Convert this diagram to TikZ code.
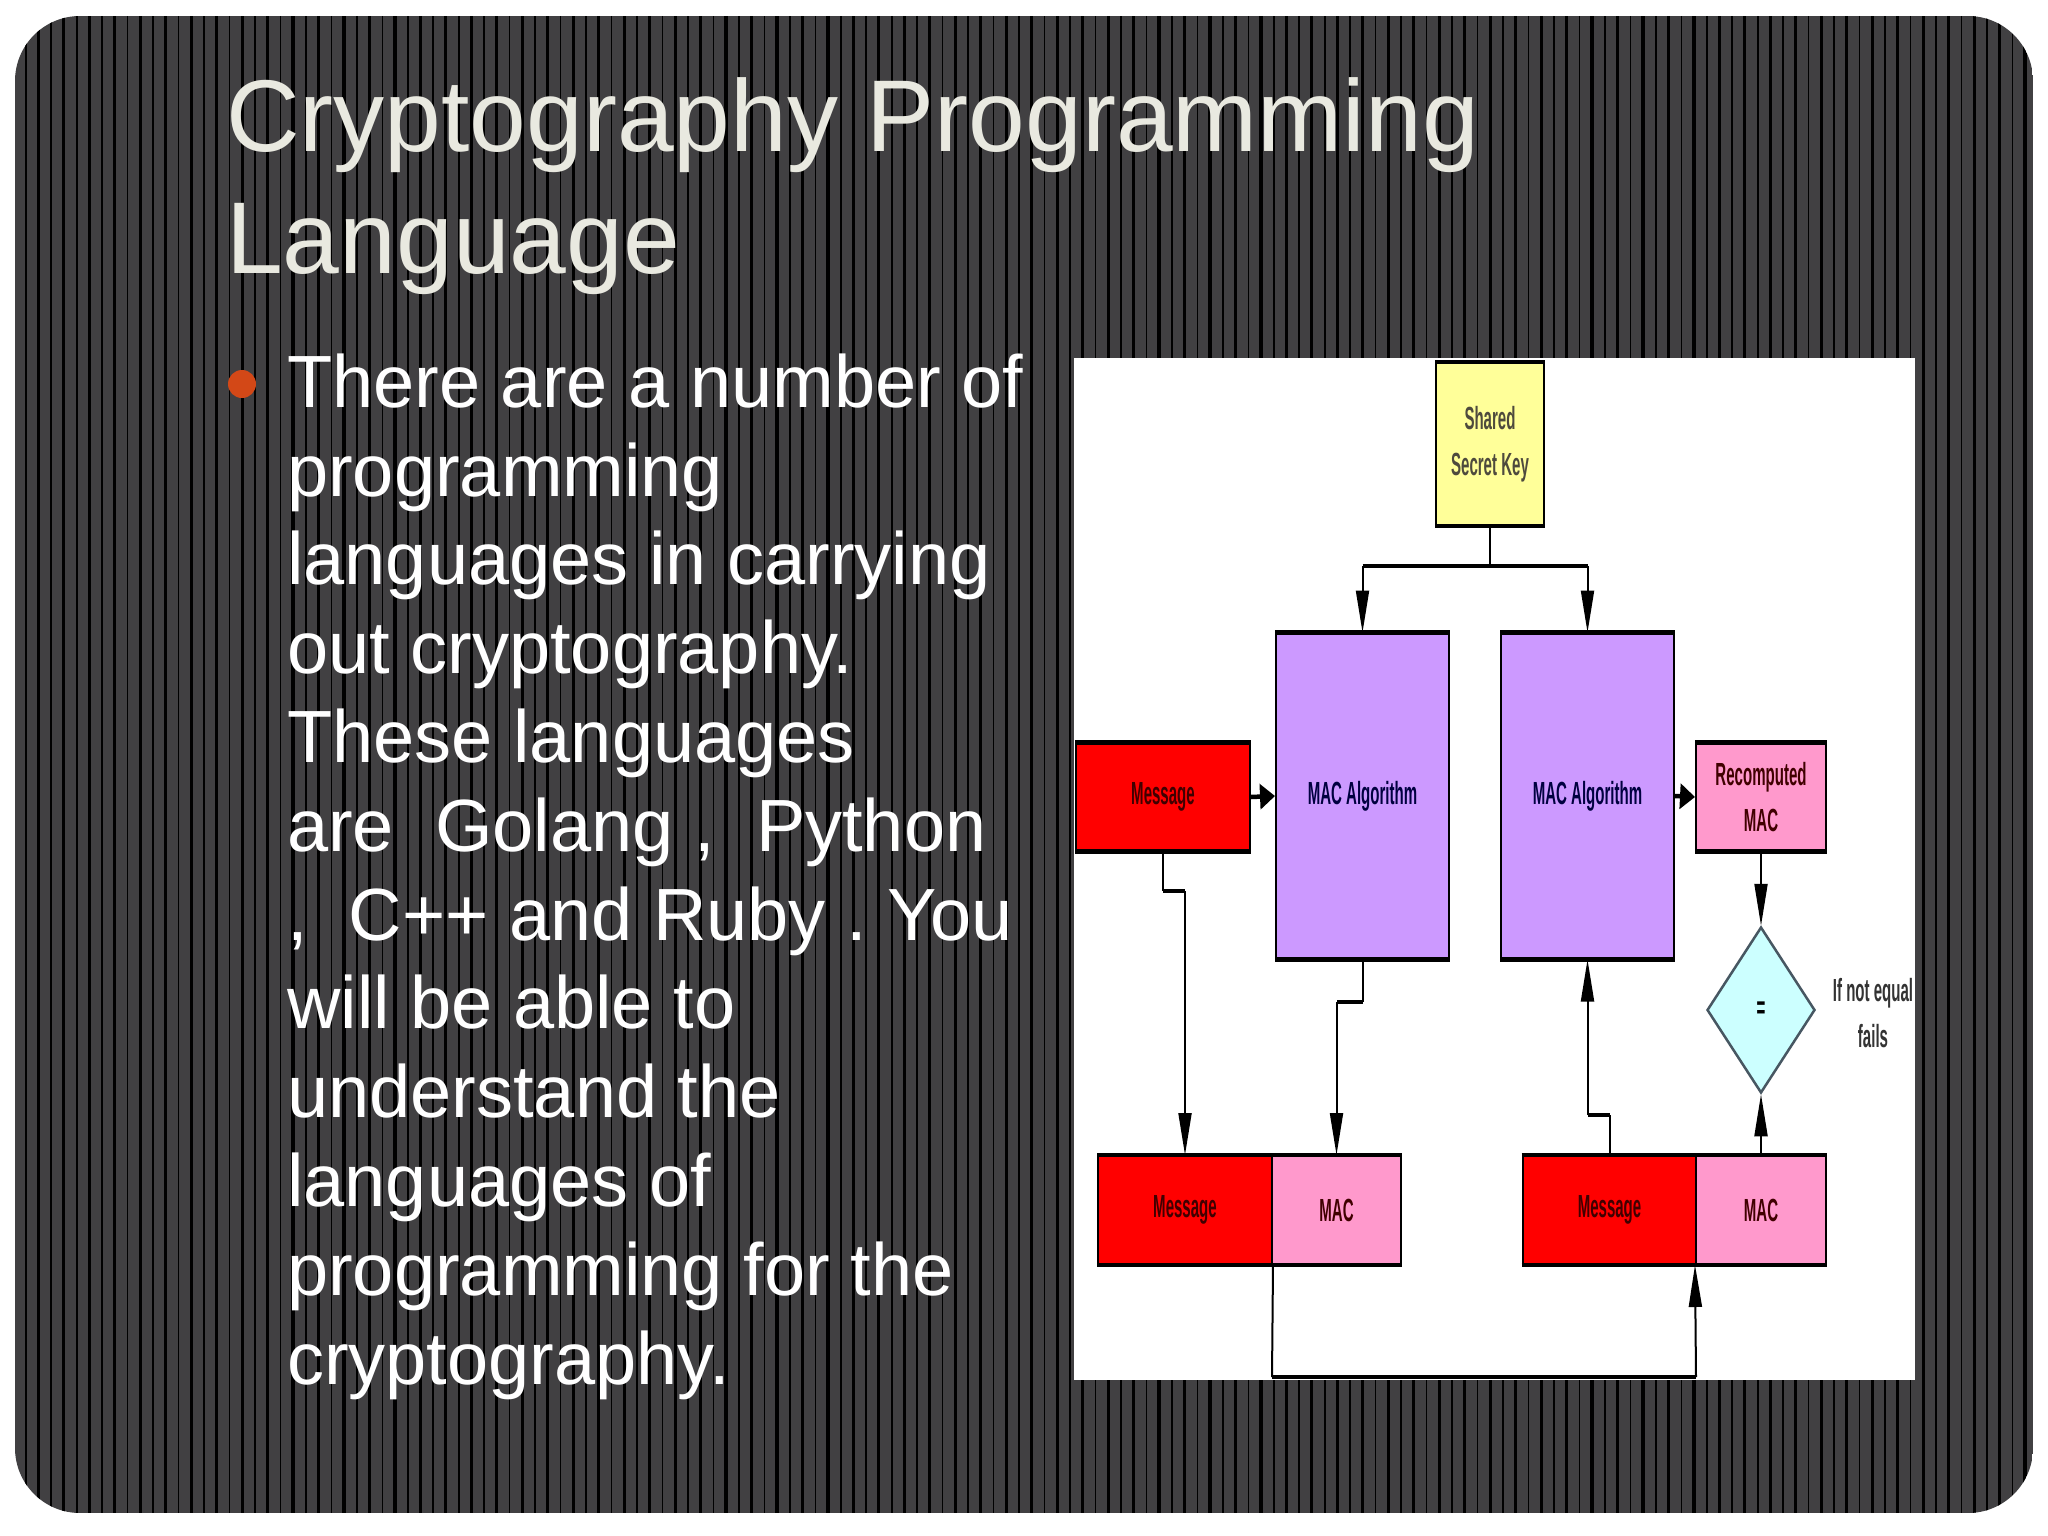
\documentclass[tikz,border=0pt]{standalone}
\usepackage{fontspec}
\setmainfont{Liberation Sans}
\usetikzlibrary{arrows.meta,shapes.geometric}
\definecolor{slidegray}{HTML}{414042}
\definecolor{titlegray}{HTML}{E9E9E0}
\definecolor{bulletred}{HTML}{D34817}
\definecolor{keyyellow}{HTML}{FFFF99}
\definecolor{algpurple}{HTML}{CC99FF}
\definecolor{macpink}{HTML}{FF99CC}
\definecolor{diamondcyan}{HTML}{CCFFFF}
\newcommand{\squeezed}[1]{\scalebox{0.47}[1]{#1}}
\tikzset{
  box/.style={draw=black,line width=2pt,inner sep=0pt,align=center,
    font=\fontsize{32}{46}\selectfont\bfseries},
  wire/.style={line width=2pt,black},
  jog/.style={line width=4.5pt,black},
  longtip/.style={-{Triangle[length=42pt,width=13pt]}},
  shorttip/.style={-{Triangle[length=15pt,width=25pt]}},
}
\begin{document}
\frenchspacing
\begin{tikzpicture}[x=1pt,y=-1pt]
\useasboundingbox (0,0) rectangle (2048,1536);
\fill[white] (0,0) rectangle (2048,1536);

% slide background
\begin{scope}
\clip[rounded corners=65pt] (15,16) rectangle (2033,1513);
\fill[slidegray] (15,16) rectangle (2033,1513);
\foreach \k in {-3,...,77} {
  \fill[black] ({89.3+25.47*\k-1.6},16) rectangle ({89.3+25.47*\k+1.6},1513);
  \fill[black] ({76.7+25.47*\k-0.8},16) rectangle ({76.7+25.47*\k+0.8},1513);
}
\end{scope}

% text
\node[anchor=north west,inner sep=0pt,align=left,text=titlegray,
  font=\fontsize{102}{122}\selectfont] (title) at (226,77)
  {Cryptography Programming\\Language};
\node[circle,fill=bulletred,inner sep=0pt,minimum size=28pt] (bullet) at (242,384) {};
\node[anchor=north west,inner sep=0pt,align=left,text=white,
  font=\fontsize{74}{88.8}\selectfont] (bodytext) at (287,353.5)
  {There are a number of\\
   programming\\
   languages in carrying\\
   out cryptography.\\
   These languages\\
   are\ \ Golang ,\ \ Python\\
   ,\ \ C++ and Ruby . You\\
   will be able to\\
   understand the\\
   languages of\\
   programming for the\\
   cryptography.};

% picture
\fill[white] (1074,358) rectangle (1915,1380);

\node[box,fill=keyyellow,minimum width=108pt,minimum height=162pt,text=black!80!yellow] (keybox) at (1490,444)
  {\squeezed{Shared}\\\squeezed{Secret Key}};
\node[box,fill=algpurple,minimum width=173pt,minimum height=325pt,text=black!75!blue] (algone) at (1362.5,796)
  {\squeezed{MAC Algorithm}};
\node[box,fill=algpurple,minimum width=173pt,minimum height=325pt,text=black!75!blue] (algtwo) at (1587.5,796)
  {\squeezed{MAC Algorithm}};
\node[box,fill=red,minimum width=174pt,minimum height=107pt,text=black!75!red] (msgtop) at (1163,797)
  {\squeezed{Message}};
\node[box,fill=macpink,minimum width=130pt,minimum height=107pt,text=black!75!red] (recomp) at (1761,797)
  {\squeezed{Recomputed}\\\squeezed{MAC}};
\node[draw=black!70!cyan,line width=2.5pt,fill=diamondcyan,diamond,aspect=0.65,inner sep=0pt,
  minimum width=108pt,minimum height=166pt,font=\fontsize{32}{46}\selectfont\bfseries] (check) at (1761,1010)
  {\squeezed{=}};
\node[inner sep=0pt,align=center,text=black!80,font=\fontsize{32}{46}\selectfont\bfseries] (failnote) at (1873,1013)
  {\squeezed{If not equal}\\\squeezed{fails}};
\node[box,fill=red,minimum width=174pt,minimum height=108pt,text=black!75!red] (msgleft) at (1185,1210)
  {\squeezed{Message}};
\node[box,fill=macpink,minimum width=129pt,minimum height=108pt,text=black!75!red] (macleft) at (1336.5,1210)
  {\squeezed{MAC}};
\node[box,fill=red,minimum width=174pt,minimum height=108pt,text=black!75!red] (msgright) at (1609.5,1210)
  {\squeezed{Message}};
\node[box,fill=macpink,minimum width=130pt,minimum height=108pt,text=black!75!red] (macright) at (1761,1210)
  {\squeezed{MAC}};

% heavy top and bottom edges
\foreach \n in {keybox,algone,algtwo,msgtop,recomp,msgleft,macleft,msgright,macright}
  \draw[jog] (\n.north west) -- (\n.north east) (\n.south west) -- (\n.south east);

% connectors
\coordinate (split) at (1490,566);
\coordinate (msgjoga) at (1163,891);
\coordinate (msgjogb) at (1185,891);
\coordinate (algjoga) at (1362.5,1002);
\coordinate (algjogb) at (1336.5,1002);
\coordinate (backjoga) at (1609.5,1115);
\coordinate (backjogb) at (1587.5,1115);
\coordinate (loopa) at (1272,1377);
\coordinate (loopb) at (1696,1377);

\draw[wire] (keybox.south) -- (split);
\draw[jog] (split -| algone.north) -- (split -| algtwo.north);
\draw[wire,longtip] (split -| algone.north) -- (algone.north);
\draw[wire,longtip] (split -| algtwo.north) -- (algtwo.north);

\draw[jog,shorttip] (msgtop.east) -- (algone.west);
\draw[jog,shorttip] (algtwo.east) -- (recomp.west);

\draw[wire] (msgtop.south) -- (msgjoga);
\draw[jog] (msgjoga) -- (msgjogb);
\draw[wire,longtip] (msgjogb) -- (msgleft.north);

\draw[wire] (algone.south) -- (algjoga);
\draw[jog] (algjoga) -- (algjogb);
\draw[wire,longtip] (algjogb) -- (macleft.north);

\draw[wire] (msgright.north) -- (backjoga);
\draw[jog] (backjoga) -- (backjogb);
\draw[wire,longtip] (backjogb) -- (algtwo.south);

\draw[wire,longtip] (recomp.south) -- (check.north);
\draw[wire,longtip] (macright.north) -- (check.south);

\draw[wire] (msgleft.south east) -- (loopa);
\draw[jog] (loopa) -- (loopb);
\draw[wire,longtip] (loopb) -- (macright.south west);
\end{tikzpicture}
\end{document}
